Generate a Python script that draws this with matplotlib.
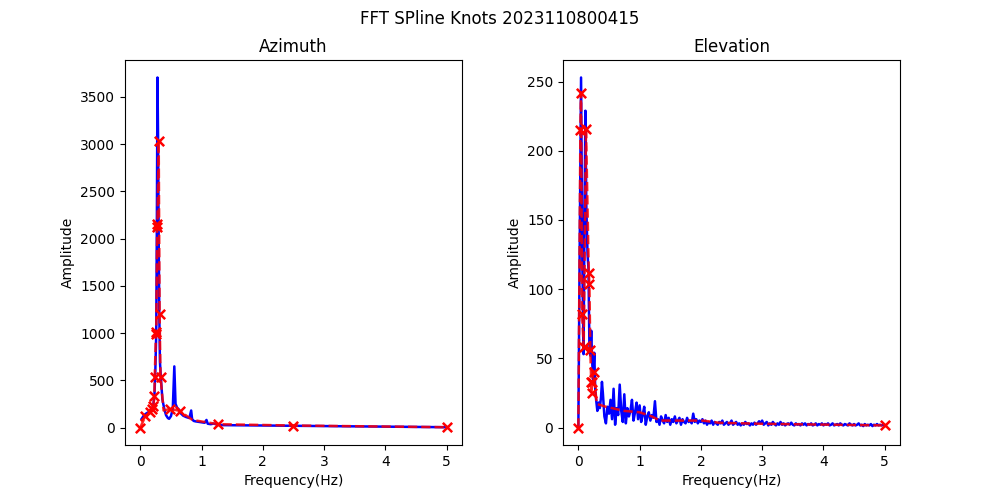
import numpy as np
import matplotlib
matplotlib.use("Agg")
import matplotlib.pyplot as plt

# ---------------- Azimuth ----------------
azi_fft_f = [0.02, 0.06, 0.10, 0.14, 0.18, 0.21, 0.23, 0.245, 0.26, 0.27, 0.28, 0.29,
             0.30, 0.31, 0.32, 0.335, 0.36, 0.39, 0.42, 0.45, 0.47, 0.50, 0.53, 0.555,
             0.575, 0.60, 0.63, 0.66, 0.70, 0.75, 0.80, 0.83, 0.845, 0.87, 0.90, 1.00,
             1.05, 1.08, 1.10, 1.15, 1.20, 1.25, 1.30, 1.35, 5.00]
azi_fft_a = [90, 130, 150, 165, 190, 230, 330, 600, 1000, 2150, 3706, 3050,
             2000, 1200, 700, 530, 300, 200, 130, 100, 92, 120, 200, 647,
             250, 210, 190, 150, 125, 110, 100, 180, 90, 70, 65, 55,
             50, 80, 40, 35, 42, 30, 28, 25, 3]

azi_knot_f = [0.0, 0.08, 0.16, 0.19, 0.21, 0.23, 0.235, 0.255, 0.26, 0.275, 0.28,
              0.30, 0.315, 0.33, 0.49, 0.645, 1.27, 2.5, 5.0]
azi_knot_a = [0, 117, 165, 200, 225, 330, 535, 985, 1010, 2120, 2160,
              3033, 1200, 535, 198, 175, 35, 21, 3]

azi_line_f = [0.0, 0.08, 0.16, 0.19, 0.21, 0.23, 0.235, 0.255, 0.26, 0.275, 0.28,
              0.30, 0.315, 0.33, 0.38, 0.49, 0.645, 0.85, 1.27, 2.5, 5.0]
azi_line_a = [0, 117, 165, 200, 225, 330, 535, 985, 1010, 2120, 2160,
              3033, 1200, 535, 180, 198, 175, 80, 35, 21, 3]

# ---------------- Elevation ----------------
ele_fft_f_low = [0.000, 0.020, 0.044, 0.065, 0.085, 0.100, 0.115, 0.130, 0.150, 0.165,
                 0.180, 0.195, 0.210, 0.225, 0.240, 0.260, 0.275, 0.290, 0.310, 0.330,
                 0.350, 0.370, 0.385]
ele_fft_a_low = [0, 120, 253, 120, 53, 150, 229, 160, 125, 115,
                 60, 52, 70, 48, 35, 54, 28, 20, 12, 18,
                 14, 22, 33]
ele_fft_a_high = [  # 0.400 .. 5.000 every 0.025 Hz
    25, 8, 3, 15, 10, 20, 6, 28, 2, 14, 9, 31, 12, 4, 24, 3, 14, 8, 12, 20,
    5, 11, 18, 6, 16, 4, 9, 15, 2, 8, 11, 5, 9, 7, 19, 4, 6, 2, 8, 5,
    3, 9, 4, 7, 2, 6, 4, 8, 3, 5, 7, 2, 6, 4, 3, 7, 4, 5, 3, 10,
    4, 6, 3, 5, 4, 6, 3, 5, 2, 4, 3, 5, 2, 4, 3, 2, 4, 3, 5, 2,
    3, 4, 2, 3, 5, 2, 3, 4, 2, 3, 1.5, 3, 2, 4, 2.5, 3, 1.5, 3, 2, 3.5,
    2, 3, 4.5, 3, 5, 2, 3, 4, 1.5, 3, 2, 4, 2.5, 1.5, 3, 2, 4, 2, 3, 1.5,
    2.5, 3, 2, 3.5, 2, 1.5, 3, 2, 2.5, 1.5, 3, 2, 3, 1.5, 2.5, 2, 3, 1.5, 2, 3,
    1.5, 2.5, 2, 3, 1.5, 2.5, 2, 3, 1.5, 2, 3, 1.5, 2, 2.5, 1.5, 3, 2, 1.5, 2.5, 2,
    1.5, 3, 2, 1.5, 2.5, 1.5, 2, 3, 1.5, 2, 1, 2.5, 1.5, 2, 1.5, 2.5, 1, 2, 1.5, 2.5,
    1.5, 2, 1.5, 2, 1.5]

ele_knot_f = [0.0, 0.033, 0.044, 0.06, 0.087, 0.125, 0.17, 0.18, 0.195, 0.21, 0.215,
              0.22, 0.25, 5.0]
ele_knot_a = [0, 215, 242, 82, 58, 216, 112, 104, 56, 33, 25,
              33, 40, 1.5]

ele_line_f = [0.0, 0.033, 0.044, 0.06, 0.087, 0.125, 0.17, 0.18, 0.195, 0.21, 0.215,
              0.22, 0.25, 0.30, 0.45, 0.75, 1.0, 1.2, 1.33, 1.7, 2.03, 2.3, 3.0,
              3.6, 4.2, 5.0]
ele_line_a = [0, 215, 242, 82, 58, 216, 112, 104, 56, 33, 25,
              33, 40, 17, 15, 12, 11, 8, 5, 5, 5, 3.4, 2.7,
              2.3, 2, 1.5]

ele_fft_f = np.concatenate([ele_fft_f_low,
                            0.4 + 0.025 * np.arange(len(ele_fft_a_high))])
ele_fft_a = np.concatenate([ele_fft_a_low, ele_fft_a_high])

fig, axes = plt.subplots(1, 2, figsize=(10, 5), dpi=100)
fig.subplots_adjust(wspace=0.3)
fig.suptitle("FFT SPline Knots 2023110800415")

panels = [
    (axes[0], "Azimuth", azi_fft_f, azi_fft_a, azi_line_f, azi_line_a, azi_knot_f, azi_knot_a),
    (axes[1], "Elevation", ele_fft_f, ele_fft_a, ele_line_f, ele_line_a, ele_knot_f, ele_knot_a),
]
for ax, title, ff, fa, lf, la, kf, ka in panels:
    ax.plot(ff, fa, color="blue", lw=1.8)
    ax.plot(lf, la, color="red", ls="--", lw=1.8, alpha=0.85)
    ax.scatter(kf, ka, marker="x", color="red", s=45, linewidths=1.8, zorder=3)
    ax.set_title(title)
    ax.set_xlabel("Frequency(Hz)")
    ax.set_ylabel("Amplitude")

fig.savefig("out.png")
